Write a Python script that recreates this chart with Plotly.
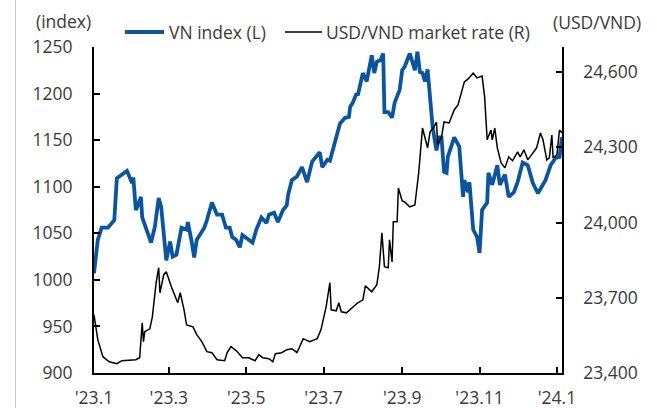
import plotly.graph_objects as go

# ---------------- data ----------------
vn_dates = ["2023-01-01","2023-01-04","2023-01-07","2023-01-12","2023-01-17","2023-01-19","2023-01-27","2023-01-31",
            "2023-02-01","2023-02-03","2023-02-04","2023-02-07","2023-02-08","2023-02-15","2023-02-18","2023-02-21",
            "2023-02-23","2023-02-27","2023-03-02","2023-03-04","2023-03-07","2023-03-11","2023-03-15","2023-03-16",
            "2023-03-19","2023-03-21","2023-03-23","2023-03-29","2023-03-31","2023-04-04","2023-04-08","2023-04-12",
            "2023-04-15","2023-04-18","2023-04-20","2023-04-23","2023-04-26","2023-04-28","2023-05-03","2023-05-06",
            "2023-05-09","2023-05-13","2023-05-17","2023-05-19","2023-05-23","2023-05-26","2023-05-30","2023-06-02",
            "2023-06-03","2023-06-06","2023-06-10","2023-06-14","2023-06-18","2023-06-22","2023-06-28","2023-06-30",
            "2023-07-04","2023-07-06","2023-07-10","2023-07-14","2023-07-18","2023-07-21","2023-07-22","2023-07-24",
            "2023-07-27","2023-07-28","2023-08-01","2023-08-04","2023-08-08","2023-08-10","2023-08-12","2023-08-15",
            "2023-08-17","2023-08-18","2023-08-21","2023-08-24","2023-08-26","2023-08-30","2023-09-01","2023-09-03",
            "2023-09-05","2023-09-07","2023-09-11","2023-09-13","2023-09-15","2023-09-17","2023-09-19","2023-09-21",
            "2023-09-22","2023-09-25","2023-09-28","2023-09-30","2023-10-02","2023-10-04","2023-10-06","2023-10-07",
            "2023-10-12","2023-10-16","2023-10-19","2023-10-20","2023-10-23","2023-10-24","2023-10-27","2023-10-30",
            "2023-11-01","2023-11-03","2023-11-07","2023-11-08","2023-11-11","2023-11-15","2023-11-17","2023-11-21",
            "2023-11-24","2023-11-28","2023-12-01","2023-12-03","2023-12-05","2023-12-09","2023-12-13","2023-12-17",
            "2023-12-23","2023-12-27","2023-12-31","2024-01-03","2024-01-05"]
vn_index = [1007,1043,1056,1056,1064,1109,1117,1104,
            1110,1075,1078,1089,1067,1040,1057,1088,
            1078,1021,1041,1025,1027,1056,1054,1062,
            1041,1024,1043,1056,1064,1083,1070,1070,
            1056,1056,1046,1043,1035,1048,1043,1040,
            1054,1067,1061,1070,1072,1062,1075,1080,
            1091,1107,1111,1121,1105,1127,1137,1121,
            1129,1128,1148,1168,1174,1175,1186,1190,
            1200,1198,1222,1213,1241,1222,1234,1236,
            1243,1180,1180,1174,1190,1204,1225,1229,
            1236,1243,1225,1245,1223,1222,1213,1226,
            1211,1164,1139,1153,1153,1116,1115,1132,
            1153,1143,1089,1107,1094,1105,1054,1046,
            1029,1075,1083,1115,1102,1123,1102,1113,
            1089,1094,1105,1116,1126,1123,1104,1093,
            1107,1123,1131,1132,1153]

fx_dates = ["2023-01-01","2023-01-04","2023-01-08","2023-01-13","2023-01-19","2023-01-23","2023-02-03","2023-02-06",
            "2023-02-08","2023-02-09","2023-02-10","2023-02-14","2023-02-16","2023-02-19","2023-02-21","2023-02-22",
            "2023-02-25","2023-02-27","2023-03-03","2023-03-05","2023-03-08","2023-03-10","2023-03-13","2023-03-15",
            "2023-03-20","2023-03-23","2023-03-27","2023-03-31","2023-04-04","2023-04-08","2023-04-14","2023-04-16",
            "2023-04-19","2023-04-22","2023-04-24","2023-04-28","2023-05-03","2023-05-08","2023-05-11","2023-05-14",
            "2023-05-19","2023-05-22","2023-05-24","2023-05-29","2023-06-02","2023-06-06","2023-06-10","2023-06-15",
            "2023-06-20","2023-06-26","2023-06-29","2023-07-03","2023-07-06","2023-07-07","2023-07-11","2023-07-13",
            "2023-07-15","2023-07-19","2023-07-24","2023-07-28","2023-08-01","2023-08-03","2023-08-08","2023-08-12",
            "2023-08-14","2023-08-16","2023-08-18","2023-08-21","2023-08-22","2023-08-24","2023-08-25","2023-08-28",
            "2023-08-29","2023-09-01","2023-09-03","2023-09-07","2023-09-11","2023-09-14","2023-09-17","2023-09-21",
            "2023-09-23","2023-09-26","2023-09-28","2023-09-29","2023-10-02","2023-10-04","2023-10-08","2023-10-12",
            "2023-10-15","2023-10-18","2023-10-20","2023-10-23","2023-10-27","2023-10-30","2023-11-03","2023-11-05",
            "2023-11-07","2023-11-10","2023-11-11","2023-11-13","2023-11-15","2023-11-18","2023-11-21","2023-11-24",
            "2023-11-27","2023-12-01","2023-12-03","2023-12-06","2023-12-09","2023-12-12","2023-12-16","2023-12-19",
            "2023-12-21","2023-12-24","2023-12-26","2023-12-28","2023-12-29","2024-01-01","2024-01-03","2024-01-05"]
usd_vnd = [23632,23533,23465,23445,23437,23449,23453,23461,
           23600,23525,23565,23576,23624,23760,23820,23720,
           23792,23804,23744,23720,23680,23720,23652,23592,
           23584,23553,23525,23485,23481,23453,23449,23481,
           23505,23493,23485,23461,23461,23449,23473,23461,
           23457,23445,23477,23481,23493,23497,23481,23537,
           23525,23537,23573,23664,23760,23652,23648,23680,
           23644,23640,23664,23680,23692,23748,23724,23752,
           23824,23959,23824,23820,23931,23843,24003,24003,
           24138,24086,24082,24062,24070,24198,24377,24298,
           24362,24381,24401,24310,24341,24401,24397,24449,
           24469,24521,24561,24573,24596,24577,24584,24501,
           24330,24369,24330,24377,24298,24238,24218,24262,
           24246,24282,24262,24290,24250,24270,24298,24357,
           24330,24250,24258,24349,24258,24270,24369,24357]

x_tickvals = ["2023-01-01","2023-03-01","2023-05-01","2023-07-01","2023-09-01","2023-11-01","2024-01-01"]
x_ticktext = ["'23.1","'23.3","'23.5","'23.7","'23.9","'23.11","'24.1"]
left_ticks = [900, 950, 1000, 1050, 1100, 1150, 1200, 1250]
right_ticks = [23400, 23700, 24000, 24300, 24600]

series_names = ["VN index (L)", "USD/VND market rate (R)"]
blue = "#0b559f"
font_family = "Open Sans, Noto Sans, sans-serif"
txt_color = "#3a3a3a"
fs = 17.5

# ---------------- figure ----------------
fig = go.Figure()
fig.add_trace(go.Scatter(x=fx_dates, y=usd_vnd, name=series_names[1], yaxis="y2",
                         mode="lines", line=dict(color="black", width=1.5), showlegend=False))
fig.add_trace(go.Scatter(x=vn_dates, y=vn_index, name=series_names[0], yaxis="y",
                         mode="lines", line=dict(color=blue, width=3.8), showlegend=False))

W, H = 657, 408
L, R, T, B = 94, 95, 47, 35
pw, ph = W - L - R, H - T - B
def px(x):
    return (x - L) / pw
def py(y):
    return (H - B - y) / ph

fig.update_layout(
    width=W, height=H,
    margin=dict(l=L, r=R, t=T, b=B),
    paper_bgcolor="white", plot_bgcolor="white",
    font=dict(family=font_family, size=fs, color=txt_color),
    xaxis=dict(type="date", range=["2023-01-01", "2024-01-05"],
               tickvals=x_tickvals, ticktext=x_ticktext, automargin=False,
               showgrid=False, zeroline=False,
               showline=True, linecolor="black", linewidth=2,
               ticks="inside", ticklen=6, tickwidth=1.5, tickcolor="black",
               ticklabelstandoff=8, tickfont=dict(size=fs, color=txt_color)),
    yaxis=dict(range=[900, 1250], tickvals=left_ticks, automargin=False,
               showgrid=False, zeroline=False,
               showline=True, linecolor="black", linewidth=2,
               ticks="inside", ticklen=6, tickwidth=1.5, tickcolor="black",
               ticklabelstandoff=16, tickfont=dict(size=fs, color=txt_color)),
    yaxis2=dict(range=[23400, 24700], tickvals=right_ticks, tickformat=",d",
                overlaying="y", side="right", automargin=False,
                showgrid=False, zeroline=False,
                showline=True, linecolor="black", linewidth=1.5,
                ticks="inside", ticklen=6, tickwidth=1.5, tickcolor="black",
                ticklabelstandoff=16, tickfont=dict(size=fs, color=txt_color)),
)

# axis unit labels
fig.add_annotation(text="(index)", xref="paper", yref="paper", x=px(63), y=py(21),
                   showarrow=False, xanchor="center", yanchor="middle", font=dict(size=fs, color=txt_color))
fig.add_annotation(text="(USD/VND)", xref="paper", yref="paper", x=px(597), y=py(22),
                   showarrow=False, xanchor="center", yanchor="middle", font=dict(size=fs, color=txt_color))

# legend (drawn)
fig.add_shape(type="line", xref="paper", yref="paper", x0=px(125), x1=px(164), y0=py(32), y1=py(32),
              line=dict(color=blue, width=3.8))
fig.add_annotation(text=series_names[0], xref="paper", yref="paper", x=px(167), y=py(32),
                   showarrow=False, xanchor="left", yanchor="middle", font=dict(size=fs, color=txt_color))
fig.add_shape(type="line", xref="paper", yref="paper", x0=px(285), x1=px(322), y0=py(32), y1=py(32),
              line=dict(color="black", width=1.5))
fig.add_annotation(text=series_names[1], xref="paper", yref="paper", x=px(324), y=py(32),
                   showarrow=False, xanchor="left", yanchor="middle", font=dict(size=fs, color=txt_color))

# light page border at left
fig.add_shape(type="line", xref="paper", yref="paper", x0=px(15.5), x1=px(15.5), y0=py(0), y1=py(408),
              line=dict(color="#c8c8c8", width=1))

fig.write_html(
    "out.html",
    config={"displayModeBar": False},
    post_script=(
        "document.documentElement.style.margin='0';"
        "document.body.style.margin='0';"
        "document.documentElement.style.overflow='hidden';"
        "var d=document.getElementById('{plot_id}');"
        "d.style.position='fixed';d.style.left='0px';d.style.top='0px';"
    ),
)
